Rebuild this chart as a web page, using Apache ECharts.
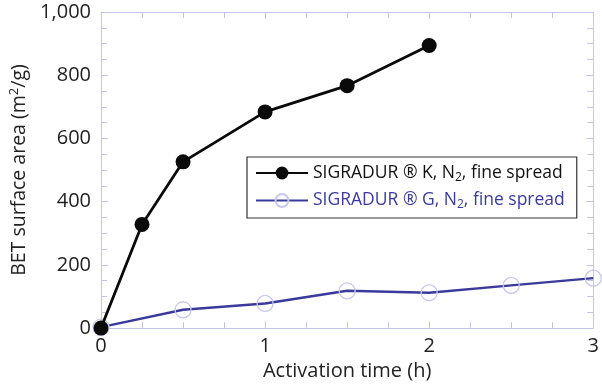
<!DOCTYPE html>
<html>
<head>
<meta charset="utf-8">
<script src="https://cdn.jsdelivr.net/npm/echarts@6/dist/echarts.min.js"></script>
<style>
  html, body { margin: 0; padding: 0; background: #fff; }
  #chart { width: 602px; height: 386px; }
</style>
</head>
<body>
<div id="chart"></div>
<script>
// Activation time (h) and BET surface area (m²/g)
const kTimes = [0, 0.25, 0.5, 1, 1.5, 2];
const kArea = [0, 328, 526, 684, 767, 894];
const gTimes = [0, 0.5, 1, 1.5, 2, 2.5, 3];
const gArea = [3, 58, 78, 118, 112, 135, 158];
const xTicks = [0, 1, 2, 3];
const yTicks = [0, 200, 400, 600, 800, 1000];

const FONT = '"Open Sans", "Noto Sans", sans-serif';
const AXIS = '#c4c4ea';
const BLUE = '#3a3a9c';

const pairs = (xs, ys) => xs.map((x, i) => [x, ys[i]]);

const chart = echarts.init(document.getElementById('chart'), null, { renderer: 'canvas' });

function frame() {
  return {
    axisLine: { show: true, onZero: false, lineStyle: { color: AXIS, width: 1 } },
    axisTick: { show: true, inside: true, length: 7, lineStyle: { color: AXIS } },
    minorTick: { show: true, splitNumber: 4, length: 6, lineStyle: { color: AXIS } },
    splitLine: { show: false }
  };
}

chart.setOption({
  animation: false,
  grid: { left: 97, right: 4, top: 12, bottom: 56, containLabel: false },
  legend: {
    left: 247, top: 157,
    orient: 'vertical',
    itemGap: 8,
    itemWidth: 52,
    itemHeight: 16,
    padding: [7, 12, 7, 8],
    borderColor: '#333',
    borderWidth: 1.2,
    backgroundColor: '#fff',
    formatter: function (name) {
      return name === 'K'
        ? '{k|SIGRADUR ® K, N}{ks|2}{k|, fine spread}'
        : '{g|SIGRADUR ® G, N}{gs|2}{g|, fine spread}';
    },
    textStyle: {
      fontFamily: FONT, fontSize: 17.5,
      rich: {
        k: { color: '#111', fontFamily: FONT, fontSize: 17.5 },
        ks: { color: '#111', fontFamily: FONT, fontSize: 12, verticalAlign: 'bottom', padding: [9, 0, 0, 0] },
        g: { color: BLUE, fontFamily: FONT, fontSize: 17.5 },
        gs: { color: BLUE, fontFamily: FONT, fontSize: 12, verticalAlign: 'bottom', padding: [9, 0, 0, 0] }
      }
    },
    data: ['K', 'G']
  },
  xAxis: [
    Object.assign({
      type: 'value', min: 0, max: 3, interval: 1,
      name: 'Activation time (h)', nameLocation: 'middle', nameGap: 32,
      nameTextStyle: { fontFamily: FONT, fontSize: 20, color: '#222' },
      axisLabel: { fontFamily: FONT, fontSize: 20, color: '#222', margin: 8,
        formatter: v => xTicks.includes(v) ? String(v) : '' }
    }, frame()),
    Object.assign({
      type: 'value', min: 0, max: 3, interval: 1, position: 'top',
      axisLabel: { show: false }
    }, frame())
  ],
  yAxis: [
    Object.assign({
      type: 'value', min: 0, max: 1000, interval: 200,
      name: 'BET surface area (m{sup|2}/g)', nameLocation: 'middle', nameGap: 71, nameRotate: 90,
      nameTextStyle: { fontFamily: FONT, fontSize: 19.5, color: '#222',
        rich: { sup: { fontFamily: FONT, fontSize: 13, color: '#222', verticalAlign: 'top', padding: [0, 0, 9, 0] } } },
      axisLabel: { fontFamily: FONT, fontSize: 20, color: '#222', margin: 10,
        formatter: v => yTicks.includes(v) ? v.toLocaleString('en-US') : '' }
    }, frame()),
    Object.assign({
      type: 'value', min: 0, max: 1000, interval: 200, position: 'right',
      axisLabel: { show: false }
    }, frame())
  ],
  series: [
    {
      name: 'G', type: 'line', data: pairs(gTimes, gArea),
      symbol: 'circle', symbolSize: 16, showSymbol: true,
      itemStyle: { color: 'rgba(255,255,255,0)', borderColor: '#c8c8ea', borderWidth: 1.3 },
      lineStyle: { color: BLUE, width: 2.4 },
      z: 2
    },
    {
      name: 'K', type: 'line', data: pairs(kTimes, kArea),
      symbol: 'circle', symbolSize: 15,
      itemStyle: { color: '#0a0a0a', borderColor: '#0a0a0a', borderWidth: 0 },
      lineStyle: { color: '#0a0a0a', width: 2.8 },
      z: 3
    }
  ]
});
</script>
</body>
</html>
